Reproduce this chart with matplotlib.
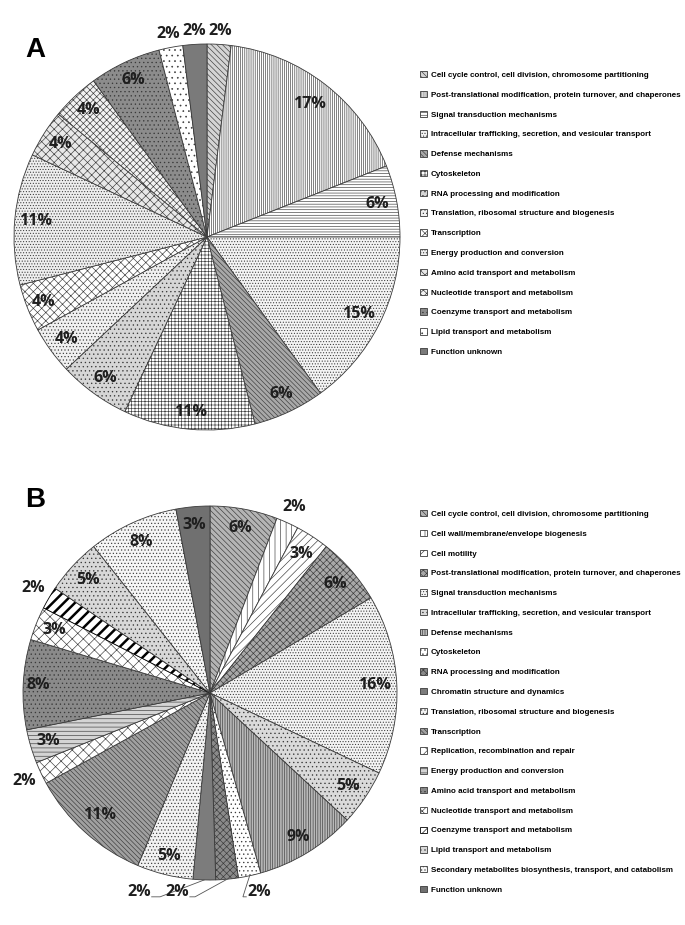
import numpy as np
import matplotlib.pyplot as plt

# Datos panel A (COG, 15 categorias)
cats_a = ['Cell cycle control, cell division, chromosome partitioning',
          'Post-translational modification, protein turnover, and chaperones',
          'Signal transduction mechanisms',
          'Intracellular trafficking, secretion, and vesicular transport',
          'Defense mechanisms',
          'Cytoskeleton',
          'RNA processing and modification',
          'Translation, ribosomal structure and biogenesis',
          'Transcription',
          'Energy production and conversion',
          'Amino acid transport and metabolism',
          'Nucleotide transport and metabolism',
          'Coenzyme transport and metabolism',
          'Lipid transport and metabolism',
          'Function unknown']
vals_a = [2, 17, 6, 15, 6, 11, 6, 4, 4, 11, 4, 4, 6, 2, 2]

# Datos panel B (20 categorias)
cats_b = ['Cell cycle control, cell division, chromosome partitioning',
          'Cell wall/membrane/envelope biogenesis',
          'Cell motility',
          'Post-translational modification, protein turnover, and chaperones',
          'Signal transduction mechanisms',
          'Intracellular trafficking, secretion, and vesicular transport',
          'Defense mechanisms',
          'Cytoskeleton',
          'RNA processing and modification',
          'Chromatin structure and dynamics',
          'Translation, ribosomal structure and biogenesis',
          'Transcription',
          'Replication, recombination and repair',
          'Energy production and conversion',
          'Amino acid transport and metabolism',
          'Nucleotide transport and metabolism',
          'Coenzyme transport and metabolism',
          'Lipid transport and metabolism',
          'Secondary metabolites biosynthesis, transport, and catabolism',
          'Function unknown']
vals_b = [6, 2, 3, 6, 16, 5, 9, 2, 2, 2, 5, 11, 2, 3, 8, 3, 2, 5, 8, 3]

# Estilos (relleno y trama) de cada sector
faces_a = ['#d4d4d4', 'white', 'white', '#f4f4f4', '#a8a8a8', 'white', '#d6d6d6',
           '#f0f0f0', 'white', '#eeeeee', '#e8e8e8', '#f2f2f2', '#8c8c8c', 'white', '#7a7a7a']
hatches_a = ['\\\\\\\\\\\\', '||||||||', '------', '......', '\\\\\\\\\\\\\\', '+++++', '....',
             '.....', 'xxxx', '......', 'xxxx', 'xxxxx', '....', '...', '']
lab_r_a = [1.07, 0.87, 0.9, 0.88, 0.9, 0.91, 0.9, 0.9, 0.91, 0.89, 0.9, 0.9, 0.9, 1.07, 1.07]

faces_b = ['#b4b4b4', 'white', 'white', '#a8a8a8', '#f4f4f4', '#dadada', '#b8b8b8',
           'white', '#8a8a8a', '#7c7c7c', '#f2f2f2', '#a0a0a0', 'white', '#d4d4d4',
           '#8a8a8a', 'white', 'white', '#d8d8d8', '#f6f6f6', '#707070']
hatches_b = ['\\\\\\\\\\\\', '|||', '////', 'xxxxx', '......', '....', '|||||||',
             '....', 'xxxxx', '', '.....', '\\\\\\\\\\\\\\', 'xxx', '----', '....',
             'xxx', '///', '....', '.....', '']
lab_r_b = [0.9, 1.09, 0.89, 0.89, 0.88, 0.89, 0.9, None, None, None, 0.9, 0.88, 1.1,
           0.9, 0.92, 0.9, 1.1, 0.89, 0.89, 0.9]

# etiquetas de sectores pequenos abajo en B: indice -> (x texto, codo de la linea)
lead_b = {9: (-0.38, -0.267), 8: (-0.176, -0.08), 7: (0.262, 0.176)}

plt.rcParams['hatch.linewidth'] = 0.45

W, H = 685, 925
fig = plt.figure(figsize=(W / 100, H / 100), dpi=100)

lab_font = dict(family=['Open Sans', 'DejaVu Sans'], fontweight='bold', fontsize=11.5,
                color='#1e1e1e')
leg_font = dict(family=['Liberation Sans', 'DejaVu Sans'], size=5.78, weight='bold')
LIM = 1.15


def make_ax(cx, cy, R):
    side = 2 * LIM * R
    ax = fig.add_axes([(cx - side / 2) / W, 1 - (cy + side / 2) / H, side / W, side / H])
    return ax


def draw_pie(ax, vals, faces, hatches):
    wedges, _ = ax.pie(vals, startangle=90, counterclock=False, colors=faces,
                       wedgeprops=dict(edgecolor='#3a3a3a', linewidth=0.6))
    for w, h in zip(wedges, hatches):
        w.set_hatch(h)
    # pie() pone sus propios limites, se cambian despues
    ax.set_xlim(-LIM, LIM)
    ax.set_ylim(-LIM, LIM)
    ax.set_aspect('equal')
    ax.axis('off')
    return wedges


def mid_angle(w):
    return np.deg2rad((w.theta1 + w.theta2) / 2)


# ---- Panel A ----
axA = make_ax(207, 237, 193)
wA = draw_pie(axA, vals_a, faces_a, hatches_a)
for w, v, r in zip(wA, vals_a, lab_r_a):
    a = mid_angle(w)
    axA.text(r * np.cos(a), r * np.sin(a), f'{v}%', ha='center', va='center',
             clip_on=False, **lab_font)
fig.text(25 / W, 1 - 57 / H, 'A', fontsize=20, fontweight='bold', family='Liberation Sans')
fig.legend(wA, cats_a, loc='upper left', bbox_to_anchor=(420 / W, 1 - 71 / H),
           frameon=False, prop=leg_font, handlelength=0.85, handleheight=0.85,
           handletextpad=0.5, labelspacing=1.47, borderaxespad=0, borderpad=0)

# ---- Panel B ----
axB = make_ax(210, 693, 187)
wB = draw_pie(axB, vals_b, faces_b, hatches_b)
# trama gruesa negra para Coenzyme
if hasattr(wB[16], 'set_hatch_linewidth'):
    wB[16].set_hatch_linewidth(1.8)
    wB[16].set_edgecolor('black')
for w, v, r in zip(wB, vals_b, lab_r_b):
    if r is None:
        continue
    a = mid_angle(w)
    axB.text(r * np.cos(a), r * np.sin(a), f'{v}%', ha='center', va='center',
             clip_on=False, **lab_font)

# etiquetas con linea guia
ty, y_line, half_w = -1.064, -1.09, 0.068
for i, (tx, cx) in lead_b.items():
    a = mid_angle(wB[i])
    px, py = np.cos(a), np.sin(a)
    axB.text(tx, ty, f'{vals_b[i]}%', ha='center', va='center', clip_on=False, **lab_font)
    ex = tx + half_w if tx < cx else tx - half_w
    axB.plot([ex, cx, px], [y_line, y_line, py], color='#555555', lw=0.6,
             clip_on=False, solid_joinstyle='miter')

fig.text(25 / W, 1 - 507 / H, 'B', fontsize=20, fontweight='bold', family='Liberation Sans')
fig.legend(wB, cats_b, loc='upper left', bbox_to_anchor=(420 / W, 1 - 510 / H),
           frameon=False, prop=leg_font, handlelength=0.85, handleheight=0.85,
           handletextpad=0.5, labelspacing=1.47, borderaxespad=0, borderpad=0)

fig.savefig('out.png', dpi=100, facecolor='white')
